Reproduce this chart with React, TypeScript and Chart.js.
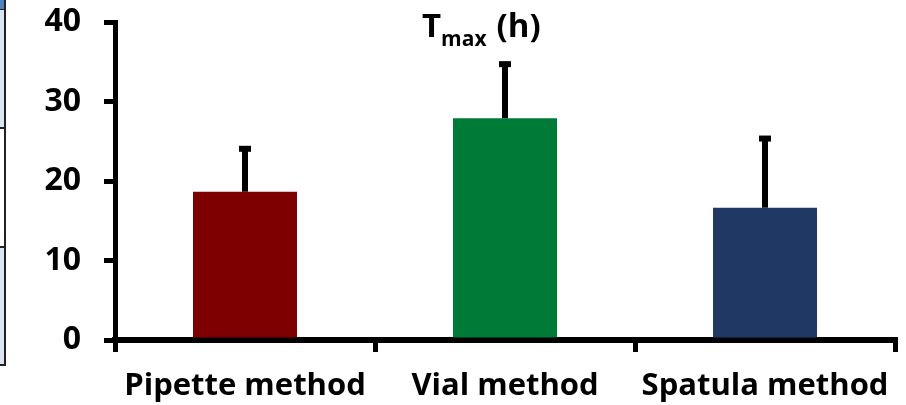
import React, { useEffect, useRef } from "react";
import { Chart, registerables } from "chart.js";

Chart.register(...registerables);

// Tmax (h) per sample-handling method
const categories = ["Pipette method", "Vial method", "Spatula method"];
const tmaxMeans = [18.65, 27.9, 16.64];
const tmaxSD = [5.4, 6.8, 8.7];
const barColors = ["#7f0000", "#007a37", "#1f3864"];
const yTicks = [0, 10, 20, 30, 40];

const FONT = "'Open Sans', 'Noto Sans', sans-serif";

// upward-only error bars with a square cap
const errorBarPlugin = {
  id: "errorBars",
  afterDatasetsDraw(chart: any) {
    const { ctx } = chart;
    const yScale = chart.scales.y;
    const meta = chart.getDatasetMeta(0);
    ctx.save();
    ctx.strokeStyle = "#000";
    ctx.lineCap = "butt";
    meta.data.forEach((bar: any, i: number) => {
      const top = yScale.getPixelForValue(tmaxMeans[i] + tmaxSD[i]);
      ctx.lineWidth = 6;
      ctx.beginPath();
      ctx.moveTo(bar.x, bar.y);
      ctx.lineTo(bar.x, top);
      ctx.stroke();
      ctx.beginPath();
      ctx.moveTo(bar.x - 6, top);
      ctx.lineTo(bar.x + 6, top);
      ctx.stroke();
    });
    ctx.restore();
  },
};

// "T_max (h)" heading with a subscript
const titlePlugin = {
  id: "subscriptTitle",
  afterDraw(chart: any) {
    const { ctx } = chart;
    ctx.save();
    ctx.fillStyle = "#000";
    ctx.textBaseline = "alphabetic";
    ctx.textAlign = "left";
    let x = 422;
    const base = 37;
    ctx.font = `bold 33px ${FONT}`;
    ctx.fillText("T", x, base);
    x += ctx.measureText("T").width;
    ctx.font = `bold 21px ${FONT}`;
    ctx.fillText("max", x, base + 9);
    x += ctx.measureText("max").width + 10;
    ctx.font = `bold 33px ${FONT}`;
    ctx.fillText("(h)", x, base);
    ctx.restore();
  },
};

export default function App() {
  const canvasRef = useRef<HTMLCanvasElement>(null);

  useEffect(() => {
    if (!canvasRef.current) return;
    const chart = new Chart(canvasRef.current, {
      type: "bar",
      data: {
        labels: categories,
        datasets: [
          {
            data: tmaxMeans,
            backgroundColor: barColors,
            borderWidth: 0,
            categoryPercentage: 0.4,
            barPercentage: 1,
          },
        ],
      },
      options: {
        responsive: false,
        animation: false,
        devicePixelRatio: 1,
        layout: { padding: { top: 22, right: 11, left: 0, bottom: 0 } },
        plugins: {
          legend: { display: false },
          tooltip: { enabled: false },
          title: { display: false },
        },
        scales: {
          x: {
            afterFit(scale: any) {
              scale.height = 65;
              scale.paddingLeft = 0;
              scale.paddingRight = 0;
            },
            grid: {
              offset: true,
              drawOnChartArea: false,
              drawTicks: true,
              tickLength: 12,
              lineWidth: 5,
              color: "#000",
            },
            border: { display: true, width: 6, color: "#000" },
            ticks: {
              color: "#000",
              padding: 16,
              maxRotation: 0,
              font: { family: FONT, size: 31, weight: "bold" },
            },
          },
          y: {
            min: 0,
            max: 40,
            afterFit(scale: any) {
              scale.width = 115;
              scale.paddingTop = 0;
              scale.paddingBottom = 0;
            },
            afterBuildTicks(scale: any) {
              scale.ticks = yTicks.map((v) => ({ value: v }));
            },
            grid: {
              drawOnChartArea: false,
              drawTicks: true,
              tickLength: 11,
              lineWidth: 5,
              color: "#000",
            },
            border: { display: true, width: 5, color: "#000" },
            ticks: {
              color: "#000",
              padding: 23,
              font: { family: FONT, size: 32, weight: "bold" },
            },
          },
        },
      },
      plugins: [errorBarPlugin, titlePlugin],
    });
    return () => chart.destroy();
  }, []);

  return (
    <div
      style={{
        position: "fixed",
        left: 0,
        top: 0,
        width: 906,
        height: 405,
        background: "#fff",
        overflow: "hidden",
      }}
    >
      {/* neighbouring table edge on the far left */}
      <div
        style={{
          position: "absolute",
          left: 0,
          top: 0,
          width: 4,
          height: 9,
          background: "#4f81bd",
          borderRight: "2px solid #222",
          borderBottom: "2px solid #222",
        }}
      />
      <div
        style={{
          position: "absolute",
          left: 0,
          top: 10,
          width: 4,
          height: 117,
          background: "#dbe5f1",
          borderRight: "2px solid #222",
          borderBottom: "2px solid #222",
        }}
      />
      <div
        style={{
          position: "absolute",
          left: 0,
          top: 129,
          width: 4,
          height: 117,
          background: "#fff",
          borderRight: "2px solid #222",
          borderBottom: "2px solid #222",
        }}
      />
      <div
        style={{
          position: "absolute",
          left: 0,
          top: 248,
          width: 4,
          height: 116,
          background: "#dbe5f1",
          borderRight: "2px solid #222",
          borderBottom: "2px solid #222",
        }}
      />
      <canvas
        ref={canvasRef}
        width={906}
        height={405}
        style={{ position: "absolute", left: 0, top: 0, width: 906, height: 405 }}
      />
    </div>
  );
}
